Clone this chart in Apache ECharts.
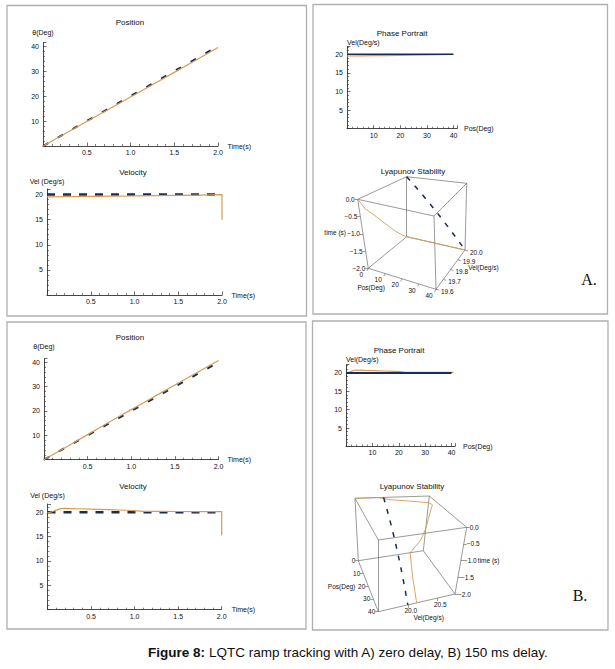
<!DOCTYPE html>
<html><head><meta charset="utf-8">
<script src="https://cdn.jsdelivr.net/npm/echarts@6/dist/echarts.min.js"></script>
<style>html,body{margin:0;padding:0;background:#fff}#c{width:615px;height:669px}</style>
</head><body><div id="c"></div>
<script>
// ================= DATA =================
// A) zero delay
const timeA      = [0, 0.25, 0.5, 0.75, 1.0, 1.25, 1.5, 1.75, 2.0];
const posRefA    = [0, 5, 10, 15, 20, 25, 30, 35, 40];
const posActA    = [0, 4.89, 9.79, 14.7, 19.62, 24.56, 29.52, 34.49, 39.5];
const velRefTime = [0, 2.0];
const velRefVal  = [20, 20];
const velActA    = [19.55, 19.58, 19.62, 19.67, 19.72, 19.78, 19.84, 19.9, 19.98];
const phaseRefPos = [0, 40];
const phaseRefVel = [20, 20];
// Lyapunov A (pos, vel, time)
const lyaRefPos  = [0, 5, 10, 15, 20, 25, 30, 35, 40];
const lyaRefVel  = [20, 20, 20, 20, 20, 20, 20, 20, 20];
const lyaRefTime = [0, -0.25, -0.5, -0.75, -1.0, -1.25, -1.5, -1.75, -2.0];
const lyaAPos    = [0, 0, 0, 0, 0, 0, 0, 10, 20, 30, 40];
const lyaAVel    = [19.6, 19.648, 19.72, 19.8, 19.88, 19.948, 20.0, 20.0, 20.0, 20.0, 20.0];
const lyaATime   = [0, -0.36, -0.7, -1.1, -1.5, -1.8, -2.0, -2.0, -2.0, -2.0, -2.0];
// B) 150 ms delay
const timeB      = [0, 0.05, 0.1, 0.15, 0.2, 0.35, 0.5, 0.7, 0.9, 1.0, 1.1, 1.3, 1.5, 1.75, 2.0];
const posActB    = [0, 1.0, 2.01, 3.04, 4.08, 7.2, 10.3, 14.42, 18.52, 20.56, 22.58, 26.62, 30.65, 35.69, 40.73];
const velActB    = [19.9, 20.1, 20.45, 20.75, 20.8, 20.72, 20.65, 20.55, 20.42, 20.35, 20.2, 20.18, 20.16, 20.15, 20.15];
// final velocity drop at the end of the run
const velDropTime = [2.0];
const velDropValA = [15.0];
const velDropValB = [15.3];
// Lyapunov B
const lyaBPos    = [0, 0, 1.0, 2.01, 3.04, 4.08, 7.2, 10.3, 14.42, 18.52, 22.58, 26.62, 30.65, 35.69, 40];
const lyaBVel    = [19.5, 19.9, 20.1, 20.45, 20.75, 20.8, 20.72, 20.65, 20.55, 20.42, 20.2, 20.18, 20.16, 20.15, 20.15];
const lyaBTime   = [0, 0, -0.05, -0.1, -0.15, -0.2, -0.35, -0.5, -0.7, -0.9, -1.1, -1.3, -1.5, -1.75, -2.0];
// 3D axis ticks
const lyaTicksPos   = [0, 10, 20, 30, 40];
const lyaTicksVelA  = [19.6, 19.7, 19.8, 19.9, 20.0];
const lyaTicksVelB  = [20.0, 20.5];
const lyaTicksTime  = [0, -0.5, -1.0, -1.5, -2.0];
const rangeA = {p:[0, 40], v:[19.6, 20.0], t:[-2, 0]};
const rangeB = {p:[0, 40], v:[19.5, 20.8], t:[-2, 0]};

// ================= STYLE / LAYOUT =================
const COL = {orange:'#d79b52', navy:'#1c2a57', axis:'#333333', text:'#111111', frame:'#555', border:'#b0b0b0'};
const FF = '"Liberation Sans", Arial, sans-serif';
// 3D view: projected box corners (p=pos index, v=vel index, b/t = bottom/top of time)
const viewA = {p0v0b:[368.3,268.3], p1v0b:[436,289.3], p1v1b:[465,250], p0v1b:[406.7,236.7],
               p0v0t:[357.7,199.3], p1v0t:[434,216], p1v1t:[466.7,183.3], p0v1t:[406.7,176.7]};
const viewB = {p0v0t:[355,498.3], p0v1t:[429.3,496], p1v1t:[466.7,527.3], p1v0t:[378.3,540],
               p0v0b:[358.3,560.7], p0v1b:[423.3,550.7], p1v1b:[455,594], p1v0b:[378.3,611.7]};

const zip = (xs, ys) => xs.map((x, i) => [x, ys[i]]);
function lab(v, interval, dec) {
  if (Math.abs(v) < 1e-9) return '';
  const r = v / interval;
  if (Math.abs(r - Math.round(r)) > 1e-6) return '';
  return v.toFixed(dec);
}
const nameStyle = (align, vAlign) => ({fontSize:7, color:COL.text, fontFamily:FF, align, verticalAlign:vAlign});
function xAx(gi, max, interval, dec, name, gap) {
  return {gridIndex:gi, type:'value', min:0, max, interval,
    axisLine:{show:true, onZero:false, lineStyle:{color:COL.axis, width:0.9}},
    axisTick:{show:true, inside:true, length:3.5, lineStyle:{color:COL.axis, width:0.7}},
    minorTick:{show:true, splitNumber:5, length:2, lineStyle:{color:COL.axis, width:0.6}},
    splitLine:{show:false}, minorSplitLine:{show:false},
    axisLabel:{fontSize:7, color:COL.text, fontFamily:FF, margin:3, formatter:v => lab(v, interval, dec)},
    name, nameLocation:'end', nameGap:gap, nameTextStyle:nameStyle('left', 'middle')};
}
function yAx(gi, max, interval, name, gap, align) {
  return {gridIndex:gi, type:'value', min:0, max, interval,
    axisLine:{show:true, onZero:false, lineStyle:{color:COL.axis, width:0.9}},
    axisTick:{show:true, inside:true, length:3.5, lineStyle:{color:COL.axis, width:0.7}},
    minorTick:{show:true, splitNumber:5, length:2, lineStyle:{color:COL.axis, width:0.6}},
    splitLine:{show:false}, minorSplitLine:{show:false},
    axisLabel:{fontSize:7, color:COL.text, fontFamily:FF, margin:4, formatter:v => lab(v, interval, 0)},
    name, nameLocation:'end', nameGap:gap, nameTextStyle:nameStyle(align, 'bottom')};
}
function ln(gi, data, color, width, type, z) {
  return {type:'line', xAxisIndex:gi, yAxisIndex:gi, data, showSymbol:false, symbol:'none',
    silent:true, clip:false, z:z || 2, lineStyle:{color, width, type:type || 'solid', cap:'butt'}};
}

// trilinear projection of a data point into the 3D box view
function projector(view, rng) {
  return function(p, v, t) {
    const a = (p - rng.p[0]) / (rng.p[1] - rng.p[0]);
    const b = (v - rng.v[0]) / (rng.v[1] - rng.v[0]);
    const c = (t - rng.t[0]) / (rng.t[1] - rng.t[0]);
    let x = 0, y = 0;
    for (const pi of [0, 1]) for (const vi of [0, 1]) for (const ti of [0, 1]) {
      const w = (pi ? a : 1 - a) * (vi ? b : 1 - b) * (ti ? c : 1 - c);
      const pt = view['p' + pi + 'v' + vi + (ti ? 't' : 'b')];
      x += w * pt[0]; y += w * pt[1];
    }
    return [x, y];
  };
}
function boxEdges(view) {
  const e = [];
  const key = (p, v, t) => 'p' + p + 'v' + v + (t ? 't' : 'b');
  for (const p of [0,1]) for (const v of [0,1]) for (const t of [0,1]) {
    if (!p) e.push([view[key(p,v,t)], view[key(1,v,t)]]);
    if (!v) e.push([view[key(p,v,t)], view[key(p,1,t)]]);
    if (!t) e.push([view[key(p,v,t)], view[key(p,v,1)]]);
  }
  return e;
}
const minusFmt = v => (v < -1e-9 ? '\u2212' : '') + Math.abs(v).toFixed(1);

const graphics = [];
function txt(x, y, text, size, align, opts) {
  const o = Object.assign({family:FF, color:COL.text, vAlign:'middle', weight:'normal'}, opts || {});
  graphics.push({type:'text', x, y, silent:true, z:10,
    style:{text, font:o.weight + ' ' + size + 'px ' + o.family, fill:o.color,
      align, textAlign:align, verticalAlign:o.vAlign, textVerticalAlign:o.vAlign}});
}
function build3D(view, rng, axes, names, curves) {
  const P = projector(view, rng);
  const series = [];
  series.push({type:'lines', coordinateSystem:'cartesian2d', xAxisIndex:6, yAxisIndex:6, silent:true, z:3,
    lineStyle:{color:COL.frame, width:0.6, opacity:1, curveness:0},
    data: boxEdges(view).map(c => ({coords:c}))});
  const ticks = [];
  axes.forEach(ax => {
    ax.vals.forEach(val => {
      const pt = P.apply(null, ax.at(val));
      ticks.push({coords:[pt, [pt[0] + ax.dir[0] * 3, pt[1] + ax.dir[1] * 3]]});
      txt(pt[0] + ax.off[0], pt[1] + ax.off[1], ax.fmt(val), 6.5, ax.align);
    });
  });
  series.push({type:'lines', coordinateSystem:'cartesian2d', xAxisIndex:6, yAxisIndex:6, silent:true, z:3,
    lineStyle:{color:COL.frame, width:0.6, opacity:1}, data:ticks});
  names.forEach(n => {
    const pt = P.apply(null, n.at);
    txt(pt[0] + n.off[0], pt[1] + n.off[1], n.text, 6.5, n.align);
  });
  curves.forEach(cv => {
    const data = cv.p.map((p, i) => P(p, cv.v[i], cv.t[i]));
    series.push(ln(6, data, cv.color, cv.width, cv.type, 4));
  });
  return series;
}

// ================= CHART =================
const grids = [
  {left:43,   top:42.5,  width:175,   height:103.5},
  {left:47,   top:189,   width:175,   height:106},
  {left:347,  top:46.5,  width:110,   height:82.2},
  {left:44,   top:358.5, width:174.5, height:101.2},
  {left:47.5, top:504,   width:174.2, height:105.7},
  {left:346,  top:364.7, width:109,   height:81.7},
  {left:0,    top:0,     width:615,   height:669}
].map(g => Object.assign({containLabel:false, outerBoundsMode:'none', show:false}, g));

const xAxes = [
  xAx(0, 2.0, 0.5, 1, 'Time(s)', 9.5),
  xAx(1, 2.0, 0.5, 1, 'Time(s)', 9.5),
  xAx(2, 41.3, 10, 0, 'Pos(Deg)', 7),
  xAx(3, 2.0, 0.5, 1, 'Time(s)', 9),
  xAx(4, 2.0, 0.5, 1, 'Time(s)', 10),
  xAx(5, 41.3, 10, 0, 'Pos(Deg)', 8),
  {gridIndex:6, type:'value', min:0, max:615, show:false}
];
const yAxes = [
  yAx(0, 41.5, 10, '\u03B8(Deg)', 7, 'center'),
  yAx(1, 21.1, 5, 'Vel (Deg/s)', 4.5, 'center'),
  yAx(2, 22.1, 5, 'Vel(Deg/s)', 1, 'left'),
  yAx(3, 41.56, 10, '\u03B8(Deg)', 9, 'center'),
  yAx(4, 21.7, 5, 'Vel (Deg/s)', 5.5, 'center'),
  yAx(5, 22.26, 5, 'Vel(Deg/s)', 2, 'left'),
  {gridIndex:6, type:'value', min:0, max:669, inverse:true, show:false}
];

const series = [
  // Position A
  ln(0, zip(timeA, posRefA), COL.navy, 2, [6, 11]),
  ln(0, zip(timeA, posActA), COL.orange, 1.2),
  // Velocity A
  ln(1, zip(velRefTime, velRefVal), COL.navy, 2.5, [8, 8]),
  ln(1, zip(timeA.concat(velDropTime), velActA.concat(velDropValA)), COL.orange, 1.2),
  // Phase A
  ln(2, zip(posActA, velActA), COL.orange, 1.2),
  ln(2, zip(phaseRefPos, phaseRefVel), COL.navy, 1.5),
  // Position B
  ln(3, zip(timeA, posRefA), COL.navy, 2, [6, 11]),
  ln(3, zip(timeB, posActB), COL.orange, 1.2),
  // Velocity B
  ln(4, zip(velRefTime, velRefVal), COL.navy, 2.5, [8, 8]),
  ln(4, zip(timeB.concat(velDropTime), velActB.concat(velDropValB)), COL.orange, 1.2),
  // Phase B
  ln(5, zip(posActB, velActB), COL.orange, 1.2),
  ln(5, zip(phaseRefPos, phaseRefVel), COL.navy, 2)
];

// 3D plots
const axesA = [
  {vals:lyaTicksPos,  at:v => [v, rangeA.v[0], rangeA.t[0]], dir:[-0.5, 0.85], off:[-7, 6], align:'center', fmt:v => String(v)},
  {vals:lyaTicksVelA, at:v => [rangeA.p[1], v, rangeA.t[0]], dir:[1, 0.25], off:[5, 2], align:'left', fmt:v => v.toFixed(1)},
  {vals:lyaTicksTime, at:v => [rangeA.p[0], rangeA.v[0], v], dir:[-1, 0], off:[-3, 0], align:'right', fmt:minusFmt}
];
const namesA = [
  {text:'Pos(Deg)',   at:[20, rangeA.v[0], rangeA.t[0]], off:[-31, 9],  align:'center'},
  {text:'Vel(Deg/s)', at:[rangeA.p[1], 19.8, rangeA.t[0]], off:[33, -2], align:'center'},
  {text:'time (s)',   at:[rangeA.p[0], rangeA.v[0], -1.0], off:[-17, -1], align:'right'}
];
const curvesA = [
  {p:lyaAPos, v:lyaAVel, t:lyaATime, color:COL.orange, width:0.9},
  {p:lyaRefPos, v:lyaRefVel, t:lyaRefTime, color:COL.navy, width:1.5, type:[5, 7]}
];
const axesB = [
  {vals:lyaTicksPos,  at:v => [v, rangeB.v[0], rangeB.t[0]], dir:[-1, 0], off:[-3, 0], align:'right', fmt:v => String(v)},
  {vals:lyaTicksVelB, at:v => [rangeB.p[1], v, rangeB.t[0]], dir:[0, 1], off:[3, 6], align:'center', fmt:v => v.toFixed(1)},
  {vals:lyaTicksTime, at:v => [rangeB.p[1], rangeB.v[1], v], dir:[1, 0], off:[3, 0], align:'left', fmt:minusFmt}
];
const namesB = [
  {text:'Pos(Deg)',   at:[20, rangeB.v[0], rangeB.t[0]], off:[-13, 0], align:'right'},
  {text:'Vel(Deg/s)', at:[rangeB.p[1], 20.15, rangeB.t[0]], off:[12, 15], align:'center'},
  {text:'time (s)',   at:[rangeB.p[1], rangeB.v[1], -1.0], off:[17, 0], align:'left'}
];
const curvesB = [
  {p:lyaBPos, v:lyaBVel, t:lyaBTime, color:COL.orange, width:0.9},
  {p:lyaRefPos, v:lyaRefVel, t:lyaRefTime, color:COL.navy, width:1.5, type:[5, 7]}
];
series.push.apply(series, build3D(viewA, rangeA, axesA, namesA, curvesA));
series.push.apply(series, build3D(viewB, rangeB, axesB, namesB, curvesB));

// panel borders
[[7, 5.5, 299.5, 310.5], [313, 4.5, 294.5, 309.5], [7, 322, 299, 307], [312.5, 321, 295.5, 309]].forEach(r => {
  graphics.push({type:'rect', silent:true, z:1, shape:{x:r[0], y:r[1], width:r[2], height:r[3]},
    style:{fill:'none', stroke:COL.border, lineWidth:1.3}});
});
// titles
[['Position', 130, 22], ['Velocity', 133, 172], ['Phase Portrait', 402, 33], ['Lyapunov Stability', 413, 171.5],
 ['Position', 130, 337], ['Velocity', 133, 486], ['Phase Portrait', 399, 350], ['Lyapunov Stability', 412, 486.5]]
  .forEach(t => txt(t[1], t[2], t[0], 8, 'center'));
txt(589, 279, 'A.', 16, 'center', {family:'"Liberation Serif", "DejaVu Serif", serif', color:'#111'});
txt(580, 595, 'B.', 16, 'center', {family:'"Liberation Serif", "DejaVu Serif", serif', color:'#111'});
graphics.push({type:'text', x:348, y:652, silent:true, z:10,
  style:{text:'{b|Figure 8:}{n| LQTC ramp tracking with A) zero delay, B) 150 ms delay.}',
    align:'center', textAlign:'center', verticalAlign:'middle', textVerticalAlign:'middle',
    font:'13.5px ' + FF, fill:'#111',
    rich:{b:{fontWeight:'bold', fontSize:13.5, fontFamily:FF, fill:'#111', color:'#111'},
          n:{fontSize:13.5, fontFamily:FF, fill:'#111', color:'#111'}}}});

const chart = echarts.init(document.getElementById('c'), null, {renderer:'svg'});
chart.setOption({animation:false, backgroundColor:'#fff', grid:grids, xAxis:xAxes, yAxis:yAxes,
  series, graphic:{elements:graphics}});
</script>
</body></html>
